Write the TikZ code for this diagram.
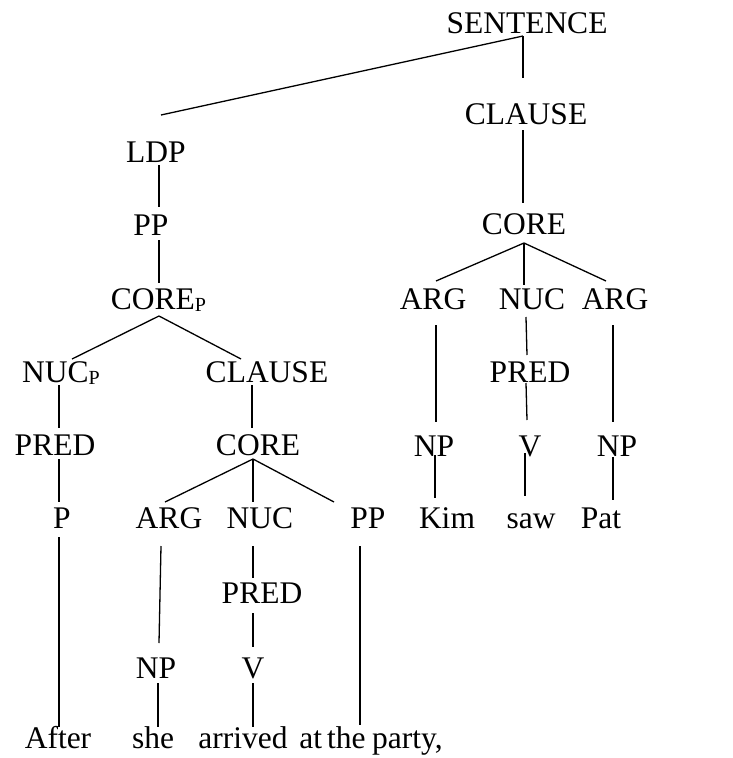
\documentclass[tikz,border=0pt]{standalone}
\usepackage{fontspec}
\setmainfont{Liberation Serif}
\begin{document}
\begin{tikzpicture}[x=1pt,y=-1pt,
  lbl/.style={font=\fontsize{31.5}{36}\selectfont, inner sep=0pt, anchor=base},
  branch/.style={line width=1.3pt, line cap=butt}]
\useasboundingbox (0,0) rectangle (733,758);
\newcommand{\subP}{{\fontsize{20}{20}\selectfont\raisebox{-2pt}{P}}}
% ---- right clause ----
\node[lbl] (sent) at (527,33) {SENTENCE};
\node[lbl] (clauseR) at (526,124) {CLAUSE};
\node[lbl] (coreR) at (524,234) {CORE};
\node[lbl] (argRa) at (433,309) {ARG};
\node[lbl] (nucR) at (532,309) {NUC};
\node[lbl] (argRb) at (615,309) {ARG};
\node[lbl] (predR) at (530,382) {PRED};
\node[lbl] (npRa) at (434,456) {NP};
\node[lbl] (vR) at (530,456) {V};
\node[lbl] (npRb) at (617,456) {NP};
\node[lbl] (kim) at (447,528) {Kim};
\node[lbl] (saw) at (531,528) {saw};
\node[lbl] (pat) at (601,528) {Pat};
% ---- left detached phrase ----
\node[lbl] (ldp) at (156,162) {LDP};
\node[lbl] (ppA) at (151,235) {PP};
\node[lbl] (coreP) at (158.5,309) {CORE\subP};
\node[lbl] (nucP) at (61,382) {NUC\subP};
\node[lbl] (clauseL) at (267,382) {CLAUSE};
\node[lbl] (predL) at (55,455) {PRED};
\node[lbl] (coreL) at (258,455) {CORE};
\node[lbl] (pL) at (62,528) {P};
\node[lbl] (argL) at (169,528) {ARG};
\node[lbl] (nucL) at (260,528) {NUC};
\node[lbl] (ppB) at (368,528) {PP};
\node[lbl] (predL2) at (262,603) {PRED};
\node[lbl] (npL) at (156,678) {NP};
\node[lbl] (vL) at (253,678) {V};
\node[lbl] (after) at (58,748) {After};
\node[lbl] (she) at (153,748) {she};
\node[lbl] (arrived) at (243,748) {arrived};
\node[lbl] (party) at (371,748) {at\hspace{5pt}the\hspace{6.5pt}party,};
% ---- branch end points ----
\coordinate (sent-b) at (523,36);
\coordinate (clauseR-t) at (523,78);   \coordinate (clauseR-b) at (523,130);
\coordinate (coreR-t) at (523,203);    \coordinate (coreR-b) at (524,243);
\coordinate (argRa-t) at (436,281);    \coordinate (argRa-b) at (436,325);
\coordinate (nucR-t) at (524,285);     \coordinate (nucR-b) at (526,317);
\coordinate (argRb-t) at (606,281);    \coordinate (argRb-b) at (613,325);
\coordinate (predR-t) at (527,355);    \coordinate (predR-b) at (526,383);
\coordinate (npRa-t) at (436,422);     \coordinate (npRa-b) at (435,455);
\coordinate (vR-t) at (527,420);       \coordinate (vR-b) at (525,453);
\coordinate (npRb-t) at (613,422);     \coordinate (npRb-b) at (613,457);
\coordinate (kim-t) at (435,498);
\coordinate (saw-t) at (525,496);
\coordinate (pat-t) at (613,500);
\coordinate (ldp-t) at (161,115);      \coordinate (ldp-b) at (159,165);
\coordinate (ppA-t) at (159,207);      \coordinate (ppA-b) at (159,240);
\coordinate (coreP-t) at (159,283);    \coordinate (coreP-b) at (159,316);
\coordinate (nucP-t) at (72,359);      \coordinate (nucP-b) at (59,385);
\coordinate (clauseL-t) at (241,359);  \coordinate (clauseL-b) at (252,385);
\coordinate (predL-t) at (59,428);     \coordinate (predL-b) at (59,459);
\coordinate (coreL-t) at (252,428);    \coordinate (coreL-b) at (253,459);
\coordinate (pL-t) at (59,502);        \coordinate (pL-b) at (59,537);
\coordinate (argL-t) at (165,502);     \coordinate (argL-b) at (161,546);
\coordinate (nucL-t) at (253,502);     \coordinate (nucL-b) at (253,546);
\coordinate (ppB-t) at (334,502);      \coordinate (ppB-b) at (360,546);
\coordinate (predL2-t) at (253,578);   \coordinate (predL2-b) at (253,613);
\coordinate (npL-t) at (159,643);      \coordinate (npL-b) at (158,683);
\coordinate (vL-t) at (253,647);       \coordinate (vL-b) at (253,683);
\coordinate (after-t) at (59,727);
\coordinate (she-t) at (158,727);
\coordinate (arrived-t) at (253,727);
\coordinate (party-t) at (360,725);
% ---- branches ----
\draw[branch] (sent-b) -- (ldp-t);
\draw[branch] (sent-b) -- (clauseR-t);
\draw[branch] (clauseR-b) -- (coreR-t);
\draw[branch] (coreR-b) -- (argRa-t);
\draw[branch] (coreR-b) -- (nucR-t);
\draw[branch] (coreR-b) -- (argRb-t);
\draw[branch] (argRa-b) -- (npRa-t);
\draw[branch] (nucR-b) -- (predR-t);
\draw[branch] (predR-b) -- (vR-t);
\draw[branch] (argRb-b) -- (npRb-t);
\draw[branch] (npRa-b) -- (kim-t);
\draw[branch] (vR-b) -- (saw-t);
\draw[branch] (npRb-b) -- (pat-t);
\draw[branch] (ldp-b) -- (ppA-t);
\draw[branch] (ppA-b) -- (coreP-t);
\draw[branch] (coreP-b) -- (nucP-t);
\draw[branch] (coreP-b) -- (clauseL-t);
\draw[branch] (nucP-b) -- (predL-t);
\draw[branch] (clauseL-b) -- (coreL-t);
\draw[branch] (predL-b) -- (pL-t);
\draw[branch] (coreL-b) -- (argL-t);
\draw[branch] (coreL-b) -- (nucL-t);
\draw[branch] (coreL-b) -- (ppB-t);
\draw[branch] (pL-b) -- (after-t);
\draw[branch] (argL-b) -- (npL-t);
\draw[branch] (nucL-b) -- (predL2-t);
\draw[branch] (predL2-b) -- (vL-t);
\draw[branch] (npL-b) -- (she-t);
\draw[branch] (vL-b) -- (arrived-t);
\draw[branch] (ppB-b) -- (party-t);
\end{tikzpicture}
\end{document}
